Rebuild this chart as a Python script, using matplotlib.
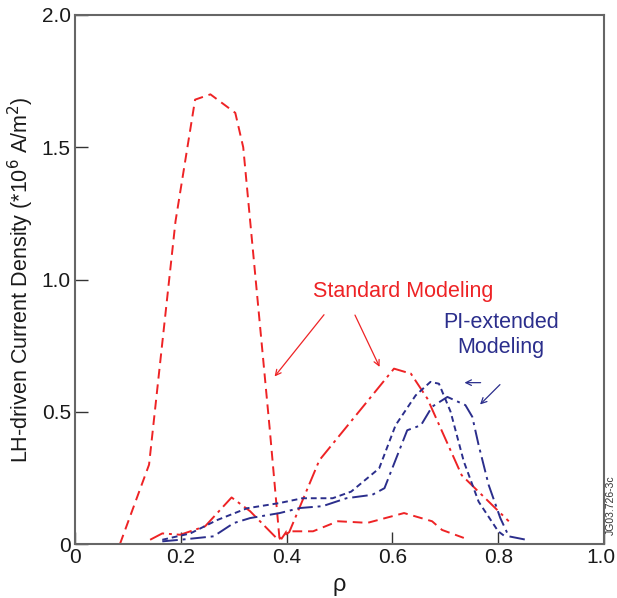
import matplotlib
matplotlib.use("Agg")
import matplotlib.pyplot as plt
from matplotlib.transforms import ScaledTranslation

plt.rcParams['font.family'] = ['Liberation Sans', 'DejaVu Sans']

RED = '#ee2325'
BLUE = '#2b2e8c'

# Standard modeling, dashed profile (large central peak, low tail)
std_dash_rho = [0.085, 0.14, 0.19, 0.227, 0.256, 0.303, 0.318, 0.368, 0.387, 0.40,
                0.45, 0.497, 0.553, 0.622, 0.675, 0.694, 0.735]
std_dash_j = [0.0, 0.30, 1.22, 1.68, 1.70, 1.63, 1.50, 0.437, 0.01, 0.048,
              0.048, 0.086, 0.08, 0.117, 0.086, 0.053, 0.023]

# Standard modeling, dash-dot profile
std_dd_rho = [0.142, 0.165, 0.199, 0.246, 0.296, 0.331, 0.384, 0.405, 0.462,
              0.603, 0.635, 0.666, 0.731, 0.82]
std_dd_j = [0.016, 0.04, 0.035, 0.067, 0.176, 0.124, 0.016, 0.045, 0.317,
            0.663, 0.644, 0.55, 0.26, 0.086]

# PI-extended modeling, short-dashed profile
pi_dash_rho = [0.165, 0.218, 0.268, 0.325, 0.387, 0.43, 0.487, 0.522, 0.575,
               0.606, 0.644, 0.672, 0.688, 0.71, 0.735, 0.763, 0.80, 0.812]
pi_dash_j = [0.016, 0.04, 0.09, 0.135, 0.155, 0.173, 0.173, 0.198, 0.286,
             0.449, 0.562, 0.613, 0.606, 0.50, 0.312, 0.16, 0.048, 0.03]

# PI-extended modeling, dash-dot profile
pi_dd_rho = [0.165, 0.199, 0.262, 0.30, 0.331, 0.387, 0.425, 0.468, 0.513, 0.562,
             0.585, 0.628, 0.654, 0.675, 0.704, 0.738, 0.751, 0.763, 0.782,
             0.804, 0.82, 0.853]
pi_dd_j = [0.01, 0.016, 0.029, 0.079, 0.098, 0.117, 0.136, 0.143, 0.173, 0.186,
           0.211, 0.43, 0.449, 0.519, 0.556, 0.525, 0.481, 0.374, 0.223,
           0.098, 0.029, 0.016]

x_ticks = [0, 0.2, 0.4, 0.6, 0.8, 1.0]
x_labels = ['0', '0.2', '0.4', '0.6', '0.8', '1.0']
y_ticks = [0, 0.5, 1.0, 1.5, 2.0]
y_labels = ['0', '0.5', '1.0', '1.5', '2.0']

fig = plt.figure(figsize=(6.17, 5.98), dpi=100)
ax = fig.add_axes([75 / 617, 54 / 598, 529 / 617, 529 / 598])

lw = 1.4
ax.plot(std_dash_rho, std_dash_j, color=RED, lw=lw, dashes=(5, 3))
ax.plot(std_dd_rho, std_dd_j, color=RED, lw=lw, dashes=(8, 2.5, 1.5, 2.5))
ax.plot(pi_dash_rho, pi_dash_j, color=BLUE, lw=lw, dashes=(3, 2))
ax.plot(pi_dd_rho, pi_dd_j, color=BLUE, lw=lw, dashes=(8, 2.5, 1.5, 2.5))

ax.set_xlim(0, 1.0)
ax.set_ylim(0, 2.0)
ax.set_xticks(x_ticks)
ax.set_xticklabels(x_labels)
ax.set_yticks(y_ticks)
ax.set_yticklabels(y_labels)
ax.tick_params(direction='in', length=9, width=1.0, color='#333333',
               labelsize=15, labelcolor='#1a1a1a', pad=3)

# keep the rightmost tick label inside the figure edge
last = ax.get_xticklabels()[-1]
last.set_transform(last.get_transform() +
                   ScaledTranslation(-3 / 100, 0, fig.dpi_scale_trans))

for s in ax.spines.values():
    s.set_color('#666666')
    s.set_linewidth(1.5)

ax.set_xlabel('ρ', fontsize=17, color='#1a1a1a', labelpad=5)
ax.set_ylabel(r'LH-driven Current Density (*10$^6$ A/m$^2$)', fontsize=15.5,
              color='#1a1a1a', labelpad=4)

# Annotations
ax.text(0.62, 0.955, 'Standard Modeling', color=RED, fontsize=15.5,
        ha='center', va='center')
arrow_r = dict(arrowstyle='->', color=RED, lw=0.9, mutation_scale=10)
ax.annotate('', xy=(0.374, 0.625), xytext=(0.474, 0.875), arrowprops=arrow_r)
ax.annotate('', xy=(0.578, 0.660), xytext=(0.527, 0.875), arrowprops=arrow_r)

ax.text(0.805, 0.79, 'PI-extended\nModeling', color=BLUE, fontsize=15.5,
        ha='center', va='center', linespacing=1.2)
arrow_b = dict(arrowstyle='->', color=BLUE, lw=0.9, mutation_scale=10)
ax.annotate('', xy=(0.731, 0.610), xytext=(0.772, 0.610), arrowprops=arrow_b)
ax.annotate('', xy=(0.762, 0.520), xytext=(0.807, 0.610), arrowprops=arrow_b)

fig.text(611 / 617, 1 - 505 / 598, 'JG03.726-3c', rotation=90, fontsize=7.5,
         color='#333333', ha='center', va='center')

fig.savefig('out.png', dpi=100)
